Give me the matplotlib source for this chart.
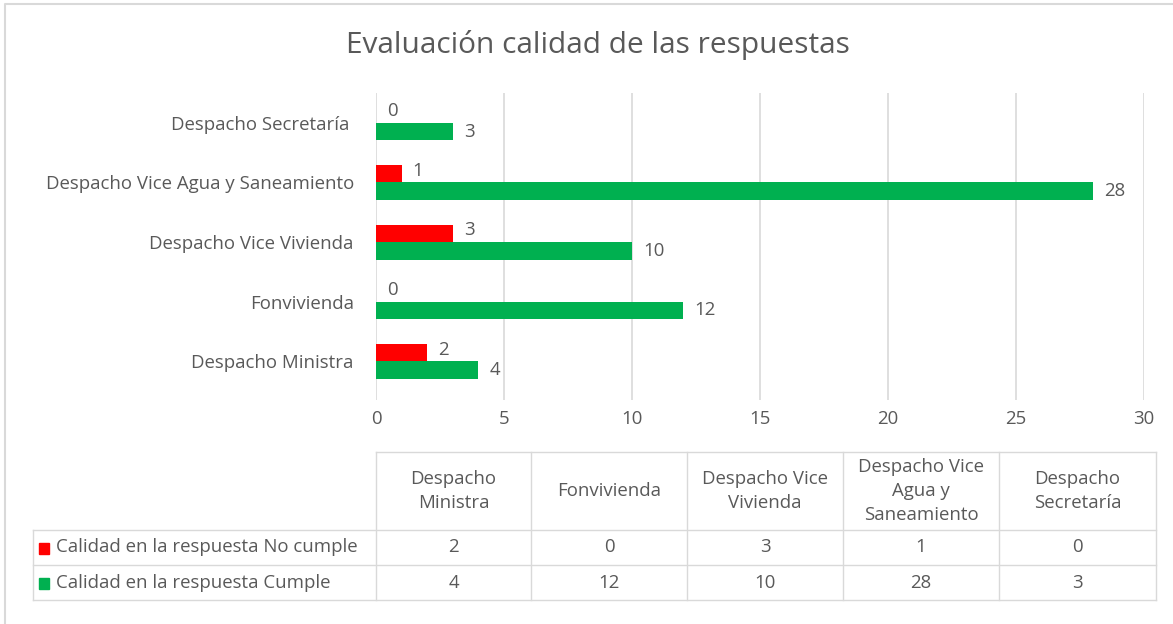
import textwrap

import matplotlib
matplotlib.use("Agg")
import matplotlib.pyplot as plt

categories = ["Despacho Ministra", "Fonvivienda", "Despacho Vice Vivienda",
              "Despacho Vice Agua y Saneamiento", "Despacho Secretaría"]
no_cumple = [2, 0, 3, 1, 0]
cumple = [4, 12, 10, 28, 3]
series_names = ["Calidad en la respuesta No cumple", "Calidad en la respuesta Cumple"]
x_ticks = [0, 5, 10, 15, 20, 25, 30]
title = "Evaluación calidad de las respuestas"

RED = "#FF0000"
GREEN = "#00B050"
TXT = "#595959"
GRID = "#D9D9D9"
W, H = 1173, 624
FS = 13.4

plt.rcParams["font.family"] = ["Open Sans", "DejaVu Sans"]

fig = plt.figure(figsize=(W / 100, H / 100), dpi=100)


def px(l, t, r, b):
    return [l / W, 1 - b / H, (r - l) / W, (b - t) / H]


ax = fig.add_axes(px(376, 93, 1144, 400))
idx = list(range(len(categories)))
h = 0.294
ax.barh([i + h / 2 for i in idx], no_cumple, height=h, color=RED)
ax.barh([i - h / 2 for i in idx], cumple, height=h, color=GREEN)
for i in idx:
    ax.annotate(str(no_cumple[i]), (no_cumple[i], i + h / 2), xytext=(8, 2),
                textcoords="offset points", va="center", ha="left",
                fontsize=FS, color=TXT)
    ax.annotate(str(cumple[i]), (cumple[i], i - h / 2), xytext=(8, 0),
                textcoords="offset points", va="center", ha="left",
                fontsize=FS, color=TXT)
ax.set_xlim(0, 30)
ax.set_ylim(-0.65, 4.5)
ax.set_xticks(x_ticks)
ax.set_yticks(idx)
ax.set_yticklabels([c + " " if c.endswith("ía") else c for c in categories])
ax.tick_params(axis="both", length=0, labelsize=FS, labelcolor=TXT)
ax.tick_params(axis="y", pad=16)
ax.tick_params(axis="x", pad=7)
ax.grid(axis="x", color=GRID, linewidth=1.2)
ax.set_axisbelow(True)
for s in ax.spines.values():
    s.set_visible(False)

# overlay for title, data table and frame (pixel coordinates)
ov = fig.add_axes([0, 0, 1, 1], zorder=-1)
ov.set_xlim(0, W)
ov.set_ylim(H, 0)
ov.axis("off")
ov.plot([5, 5, W], [H, 4, 4], color=GRID, lw=1.5)
ov.text(598, 45, title, ha="center", va="center", fontsize=21.5, color=TXT)

cols = [376, 531, 687, 843, 999, 1156]
rows = [452, 530, 565, 600]
left = 33
lw = 1.0
ov.plot([cols[0], cols[-1]], [rows[0], rows[0]], color=GRID, lw=lw)
for y in rows[1:]:
    ov.plot([left, cols[-1]], [y, y], color=GRID, lw=lw)
for x in cols:
    ov.plot([x, x], [rows[0], rows[-1]], color=GRID, lw=lw)
ov.plot([left, left], [rows[1], rows[-1]], color=GRID, lw=lw)

for j, i in enumerate(idx):
    cx = (cols[j] + cols[j + 1]) / 2
    ov.text(cx, (rows[0] + rows[1]) / 2, textwrap.fill(categories[i], 13),
            ha="center", va="center", fontsize=FS, color=TXT, linespacing=1.42)
    ov.text(cx, (rows[1] + rows[2]) / 2, str(no_cumple[i]), ha="center",
            va="center", fontsize=FS, color=TXT)
    ov.text(cx, (rows[2] + rows[3]) / 2, str(cumple[i]), ha="center",
            va="center", fontsize=FS, color=TXT)

for r, (name, col) in enumerate(zip(series_names, [RED, GREEN])):
    yc = (rows[r + 1] + rows[r + 2]) / 2
    ov.add_patch(plt.Rectangle((39, yc - 5), 10, 11, color=col))
    ov.text(56, yc, name, ha="left", va="center", fontsize=FS, color=TXT)

fig.savefig("out.png", dpi=100)
